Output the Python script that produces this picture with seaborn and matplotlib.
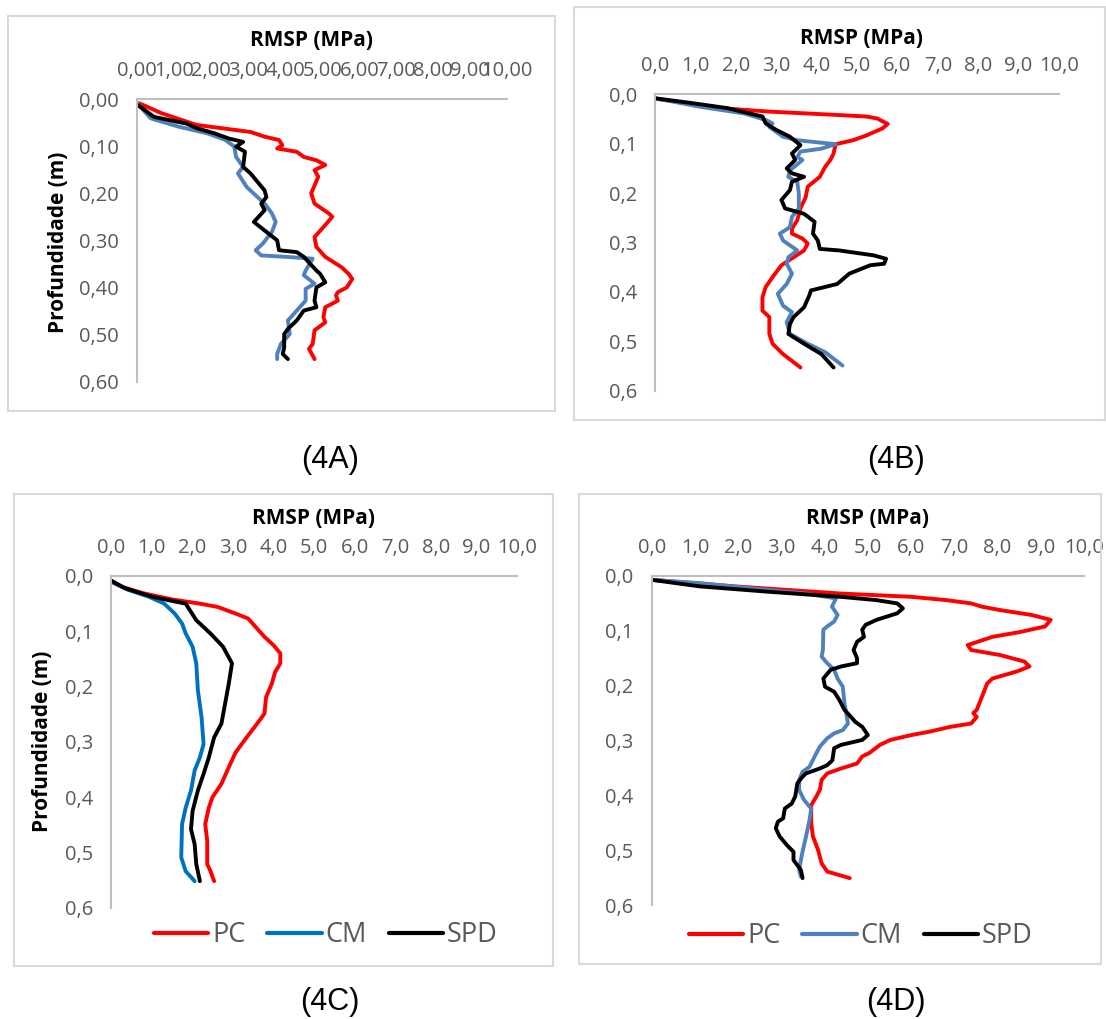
import matplotlib
matplotlib.use("Agg")
import matplotlib.pyplot as plt
from matplotlib.patches import Rectangle
from matplotlib.lines import Line2D
import seaborn as sns
import pandas as pd

sns.set_style("white")
plt.rcParams['font.family'] = ['Open Sans', 'DejaVu Sans']

W, H = 1106, 1019

# ---------------- DATA ----------------
series_names = ["PC", "CM", "SPD"]

# Panel 4A
a_pc_y = [0.009,0.03,0.055,0.07,0.08,0.087,0.098,0.105,0.112,0.123,0.13,0.14,0.151,0.165,0.20,0.222,0.243,0.25,0.272,0.293,0.314,0.335,0.357,0.371,0.382,0.40,0.41,0.417,0.428,0.442,0.463,0.474,0.491,0.52,0.53,0.552]
a_pc_x = [0.05,0.65,1.6,3.06,3.44,3.83,3.92,3.78,4.31,4.5,4.84,5.08,4.79,4.89,4.7,4.79,5.18,5.27,5.03,4.79,4.84,5.08,5.52,5.71,5.81,5.66,5.42,5.37,5.42,5.08,5.03,5.08,4.79,4.74,4.64,4.79]
a_cm_y = [0.009,0.041,0.059,0.073,0.087,0.101,0.123,0.144,0.158,0.187,0.222,0.243,0.261,0.282,0.307,0.321,0.332,0.335,0.339,0.364,0.374,0.392,0.403,0.428,0.449,0.47,0.499,0.52,0.541,0.552]
a_cm_x = [0.0,0.36,1.13,1.9,2.38,2.62,2.67,2.86,2.72,2.96,3.44,3.64,3.74,3.64,3.39,3.2,3.35,4.02,4.74,4.55,4.5,4.79,4.55,4.55,4.31,4.07,4.12,3.88,3.78,3.78]
a_spd_y = [0.013,0.038,0.052,0.062,0.073,0.084,0.091,0.101,0.112,0.144,0.158,0.194,0.208,0.222,0.236,0.261,0.279,0.30,0.321,0.325,0.335,0.364,0.371,0.389,0.40,0.428,0.442,0.449,0.47,0.488,0.499,0.527,0.541,0.552]
a_spd_x = [0.02,0.45,1.32,1.61,2.09,2.48,2.86,2.67,2.91,2.86,3.06,3.44,3.49,3.35,3.44,3.15,3.44,3.78,3.83,4.31,4.5,4.84,4.94,5.08,4.84,4.79,4.84,4.5,4.31,4.07,3.97,3.97,3.93,4.07]

# Panel 4B
b_pc_y = [0.009,0.028,0.035,0.042,0.045,0.049,0.06,0.069,0.083,0.093,0.101,0.12,0.133,0.147,0.167,0.187,0.208,0.231,0.255,0.272,0.282,0.292,0.302,0.316,0.33,0.346,0.37,0.39,0.411,0.438,0.451,0.485,0.505,0.526,0.553]
b_pc_x = [0.03,1.62,2.83,4.55,5.24,5.5,5.76,5.63,5.24,4.9,4.47,4.42,4.34,4.21,4.08,3.78,3.73,3.6,3.52,3.39,3.39,3.65,3.78,3.69,3.43,3.13,2.91,2.74,2.66,2.66,2.83,2.83,2.91,3.17,3.6]
b_cm_y = [0.008,0.025,0.039,0.052,0.059,0.066,0.086,0.093,0.101,0.11,0.116,0.127,0.133,0.154,0.167,0.177,0.201,0.231,0.248,0.269,0.282,0.296,0.316,0.33,0.343,0.363,0.384,0.404,0.428,0.441,0.461,0.485,0.505,0.522,0.549]
b_cm_x = [0.0,1.1,2.22,2.74,2.91,2.83,3.17,3.52,4.47,4.12,3.6,3.52,3.65,3.34,3.3,3.52,3.56,3.56,3.39,3.34,3.09,3.17,3.52,3.3,3.26,3.39,3.26,3.04,3.17,3.39,3.26,3.34,3.78,4.21,4.64]
b_spd_y = [0.008,0.018,0.028,0.045,0.059,0.072,0.086,0.103,0.12,0.133,0.15,0.16,0.167,0.177,0.194,0.214,0.231,0.242,0.258,0.282,0.296,0.313,0.316,0.326,0.333,0.343,0.346,0.363,0.384,0.397,0.407,0.431,0.451,0.465,0.485,0.505,0.526,0.553]
b_spd_x = [0.0,0.93,1.79,2.66,2.74,3.0,3.34,3.6,3.39,3.47,3.26,3.39,3.69,3.39,3.34,3.13,3.22,3.69,3.95,3.91,4.03,4.08,4.55,5.41,5.72,5.67,5.33,4.81,4.51,3.86,3.82,3.69,3.43,3.34,3.3,3.69,4.12,4.42]

# Panel 4C
c_pc_y = [0.01,0.019,0.031,0.042,0.05,0.056,0.068,0.077,0.092,0.11,0.125,0.14,0.158,0.174,0.195,0.219,0.249,0.267,0.292,0.319,0.346,0.376,0.4,0.419,0.449,0.479,0.521,0.534,0.552]
c_pc_x = [0.0,0.25,0.78,1.48,2.19,2.63,3.07,3.38,3.56,3.78,4.0,4.17,4.17,4.04,3.96,3.82,3.78,3.6,3.34,3.07,2.9,2.72,2.5,2.41,2.32,2.37,2.37,2.45,2.54]
c_cm_y = [0.01,0.025,0.038,0.05,0.068,0.086,0.104,0.128,0.158,0.207,0.255,0.304,0.328,0.352,0.388,0.419,0.449,0.509,0.534,0.552]
c_cm_x = [0.0,0.42,0.95,1.31,1.57,1.75,1.84,2.01,2.1,2.14,2.23,2.28,2.19,2.06,1.97,1.84,1.75,1.73,1.84,2.06]
c_spd_y = [0.008,0.022,0.038,0.05,0.08,0.104,0.128,0.158,0.195,0.231,0.267,0.292,0.328,0.358,0.388,0.425,0.458,0.485,0.521,0.552]
c_spd_x = [0.0,0.34,1.04,1.84,2.1,2.45,2.76,2.98,2.9,2.81,2.72,2.54,2.41,2.28,2.14,2.01,1.97,2.06,2.1,2.19]

# Panel 4D
d_pc_y = [0.007,0.019,0.032,0.038,0.044,0.05,0.056,0.062,0.071,0.08,0.092,0.102,0.111,0.126,0.135,0.144,0.156,0.165,0.174,0.187,0.196,0.22,0.244,0.25,0.257,0.269,0.275,0.284,0.29,0.299,0.308,0.323,0.329,0.342,0.351,0.36,0.372,0.39,0.402,0.418,0.451,0.475,0.5,0.524,0.539,0.551]
d_pc_x = [0.0,1.94,4.38,6.01,6.82,7.39,7.64,8.05,8.78,9.23,9.1,8.53,7.88,7.31,7.39,8.05,8.62,8.74,8.45,7.88,7.76,7.64,7.52,7.44,7.52,7.39,6.91,6.42,6.01,5.52,5.28,5.03,4.87,4.75,4.38,4.06,3.93,3.89,3.81,3.69,3.69,3.73,3.85,3.93,4.06,4.58]
d_cm_y = [0.007,0.013,0.026,0.032,0.041,0.056,0.071,0.083,0.092,0.098,0.135,0.147,0.159,0.171,0.187,0.202,0.232,0.269,0.281,0.287,0.296,0.311,0.329,0.348,0.357,0.372,0.39,0.408,0.424,0.445,0.475,0.506,0.536,0.548]
d_cm_x = [0.0,1.12,2.75,3.57,4.26,4.17,4.3,4.22,4.06,3.97,3.96,3.93,4.06,4.22,4.3,4.42,4.46,4.54,4.42,4.22,4.06,3.89,3.77,3.65,3.49,3.41,3.41,3.52,3.69,3.65,3.57,3.48,3.41,3.45]
d_spd_y = [0.007,0.019,0.029,0.038,0.044,0.05,0.059,0.068,0.08,0.089,0.098,0.111,0.12,0.135,0.15,0.159,0.165,0.171,0.187,0.202,0.211,0.226,0.244,0.266,0.275,0.29,0.299,0.308,0.314,0.336,0.345,0.351,0.36,0.366,0.378,0.402,0.415,0.424,0.442,0.448,0.46,0.475,0.491,0.503,0.518,0.536,0.551]
d_spd_x = [0.0,1.12,2.75,4.38,5.2,5.68,5.81,5.68,5.2,4.95,4.87,4.91,4.75,4.67,4.75,4.75,4.38,4.14,3.97,4.01,4.22,4.34,4.46,4.71,4.87,5.0,4.87,4.38,4.22,4.18,4.06,3.89,3.57,3.49,3.37,3.32,3.24,3.08,3.04,2.92,2.87,2.96,3.13,3.28,3.28,3.45,3.49]

x_ticks = [0, 1, 2, 3, 4, 5, 6, 7, 8, 9, 10]
y_ticks = [0.0, 0.1, 0.2, 0.3, 0.4, 0.5, 0.6]
captions = ["(4A)", "(4B)", "(4C)", "(4D)"]
x_title = "RMSP (MPa)"
y_title = "Profundidade (m)"

RED = "#FF0000"
BLUE_SOFT = "#4F81BD"
BLUE_C = "#0070C0"
BLACK = "#000000"
GRAY_TXT = "#595959"
GRAY_AX = "#BFBFBF"
GRAY_BOX = "#D9D9D9"

fig = plt.figure(figsize=(W / 100, H / 100), dpi=100)


def fx(px):
    return px / W


def fy(py):
    return 1 - py / H


def add_axes(x0, x1, y0, y1):
    return fig.add_axes([fx(x0), fy(y1), (x1 - x0) / W, (y1 - y0) / H])


def box(x0, x1, y0, y1):
    fig.add_artist(Rectangle((fx(x0), fy(y1)), (x1 - x0) / W, (y1 - y0) / H,
                             transform=fig.transFigure, fill=False,
                             edgecolor=GRAY_BOX, linewidth=1.5))


def fmt(v, nd):
    return f"{v:.{nd}f}".replace(".", ",")


def panel(ax, data, cm_color, ndx, ndy):
    frames = []
    for name, (xs, ys) in zip(series_names, data):
        frames.append(pd.DataFrame({"RMSP": xs, "Prof": ys, "Trat": name}))
    df = pd.concat(frames, ignore_index=True)
    pal = {"PC": RED, "CM": cm_color, "SPD": BLACK}
    sns.lineplot(data=df, x="RMSP", y="Prof", hue="Trat", palette=pal,
                 sort=False, estimator=None, linewidth=2.8, ax=ax,
                 legend=False)
    for ln in ax.get_lines():
        ln.set_solid_capstyle("round")
        ln.set_solid_joinstyle("round")
    ax.set_xlim(0, 10)
    ax.set_ylim(0.6, 0)
    ax.xaxis.tick_top()
    ax.set_xticks(x_ticks)
    ax.set_xticklabels([fmt(v, ndx) for v in x_ticks])
    ax.set_yticks(y_ticks)
    ax.set_yticklabels([fmt(v, ndy) for v in y_ticks])
    ax.tick_params(length=0, pad=13, labelsize=14.5, labelcolor=GRAY_TXT)
    ax.set_xlabel("")
    ax.set_ylabel("")
    for s in ["right", "bottom"]:
        ax.spines[s].set_visible(False)
    for s in ["top", "left"]:
        ax.spines[s].set_color(GRAY_AX)
        ax.spines[s].set_linewidth(1.5)
    ax.set_facecolor("none")


# boxes
box(8.3, 555, 15.7, 411)
box(574.3, 1104.5, 7.3, 420)
box(14, 553, 494, 966)
box(579, 1101, 494, 964)

axA = add_axes(137.3, 507.3, 99, 381.7)
panel(axA, [(a_pc_x, a_pc_y), (a_cm_x, a_cm_y), (a_spd_x, a_spd_y)], BLUE_SOFT, 2, 2)
axB = add_axes(655, 1059, 94.3, 390.7)
panel(axB, [(b_pc_x, b_pc_y), (b_cm_x, b_cm_y), (b_spd_x, b_spd_y)], BLUE_SOFT, 1, 1)
axC = add_axes(111, 517, 576, 907.7)
panel(axC, [(c_pc_x, c_pc_y), (c_cm_x, c_cm_y), (c_spd_x, c_spd_y)], BLUE_C, 1, 1)
axD = add_axes(651.7, 1084, 576, 905)
panel(axD, [(d_pc_x, d_pc_y), (d_cm_x, d_cm_y), (d_spd_x, d_spd_y)], BLUE_SOFT, 1, 1)

# axis titles
for (px, py) in [(312, 40), (861, 38), (313, 519), (868, 519)]:
    fig.text(fx(px), fy(py), x_title, ha="center", va="center",
             fontsize=15, fontweight="bold", color="black")
for (px, py) in [(58, 242), (43, 741)]:
    fig.text(fx(px), fy(py), y_title, ha="center", va="center", rotation=90,
             fontsize=15, fontweight="bold", color="black")

# legends
for ax, cmc, (px, py) in [(axC, BLUE_C, (326, 935)), (axD, BLUE_SOFT, (861, 936))]:
    handles = [Line2D([], [], color=RED, lw=3.0),
               Line2D([], [], color=cmc, lw=3.0),
               Line2D([], [], color=BLACK, lw=3.0)]
    leg = fig.legend(handles, series_names, loc="center",
                     bbox_to_anchor=(fx(px), fy(py)), ncol=3, frameon=False,
                     fontsize=19.5, handlelength=2.0, handletextpad=0.15,
                     columnspacing=0.8, borderpad=0)
    for t in leg.get_texts():
        t.set_color(GRAY_TXT)

# captions
for txt, (px, py) in zip(captions, [(330, 460), (896, 460), (330, 1002), (896, 1002)]):
    fig.text(fx(px), fy(py), txt, ha="center", va="center", fontsize=22,
             color="black", family=["Liberation Sans", "DejaVu Sans"])

fig.savefig("out.png", dpi=100, facecolor="white")
